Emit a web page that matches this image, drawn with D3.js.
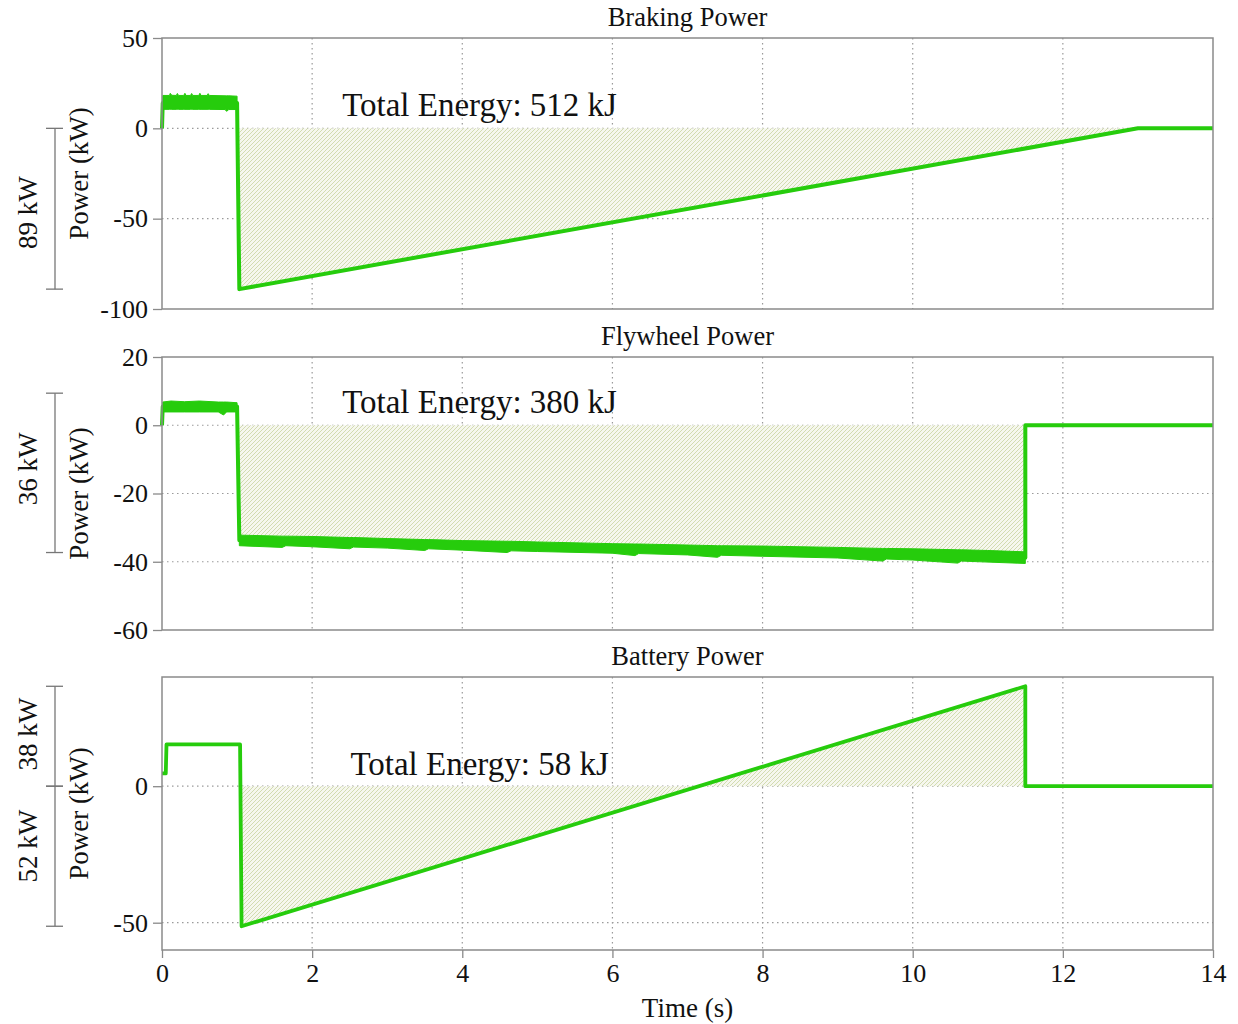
<!DOCTYPE html>
<html>
<head>
<meta charset="utf-8">
<script src="https://cdn.jsdelivr.net/npm/d3@7"></script>
<style>
  html, body { margin: 0; padding: 0; background: #fff; }
  svg text { font-family: "Liberation Serif", "Times New Roman", serif; fill: #111; }
</style>
</head>
<body>
<svg id="chart" width="1238" height="1024"></svg>
<script>
// ---- time axis ----
const timeDomain = [0, 14];
const timeTicks = [0, 2, 4, 6, 8, 10, 12, 14];

// ---- panel titles / y ranges / y ticks ----
const panelTitles = ["Braking Power", "Flywheel Power", "Battery Power"];
const yDomains = [[-100, 50], [-60, 20], [-60, 40]];
const yTicks = [[-100, -50, 0, 50], [-60, -40, -20, 0, 20], [-50, 0]];
const energyLabels = ["Total Energy: 512 kJ", "Total Energy: 380 kJ", "Total Energy: 58 kJ"];

// ---- braking power (kW): main trace [t, P] ----
const brakingLine = [[0, 0], [0.01, 14], [1.0, 14], [1.03, -89], [13.0, 0], [14, 0]];
// noisy band during acceleration [t, low, high]
const brakingBand = [
  [0.01, 10.5, 18.2], [0.10, 10.5, 18.2], [0.11, 10.5, 19.4], [0.13, 10.5, 18.3],
  [0.19, 10.5, 18.2], [0.205, 10.5, 19.3], [0.22, 10.5, 18.2], [0.29, 10.5, 18.2],
  [0.305, 10.5, 19.4], [0.32, 10.5, 18.2], [0.38, 10.5, 18.2], [0.395, 10.5, 19.3],
  [0.41, 10.5, 18.2], [0.49, 10.5, 18.2], [0.505, 10.5, 19.4], [0.52, 10.5, 18.2],
  [0.60, 10.5, 18.2], [0.615, 10.5, 19.2], [0.63, 10.5, 18.2], [0.84, 10.4, 18.0],
  [0.86, 9.4, 18.0], [0.89, 10.4, 18.0], [1.0, 10.4, 17.8]
];
const brakingFill = [[1.03, -89], [13.0, 0]];

// ---- flywheel power (kW) ----
const flywheelLine = [[0, 0], [0.01, 5.5], [1.0, 5.5], [1.03, -33.7], [11.5, -38.8], [11.5, 0], [14, 0]];
const flywheelBandA = [
  [0.01, 3.9, 6.8], [0.12, 3.9, 7.1], [0.3, 3.9, 6.9], [0.5, 3.9, 7.1],
  [0.75, 3.9, 6.8], [0.82, 3.0, 6.8], [0.86, 3.9, 6.8], [1.0, 3.9, 6.6]
];
const flywheelBandB = [
  [1.03, -35.3, -32.2], [1.6, -35.8, -32.5], [1.65, -35.3, -32.5], [2, -35.6, -32.6],
  [2.5, -36.2, -32.9], [2.55, -35.7, -32.9], [3, -36.0, -33.2], [3.5, -36.7, -33.5],
  [3.55, -36.2, -33.5], [4, -36.6, -33.8], [4.6, -37.3, -34.0], [4.65, -36.8, -34.0],
  [5, -37.0, -34.2], [6, -37.5, -34.7], [6.3, -38.2, -34.8], [6.35, -37.6, -34.8],
  [7, -38.0, -35.1], [7.4, -38.7, -35.3], [7.45, -38.1, -35.3], [8, -38.4, -35.4],
  [9, -38.9, -35.8], [9.6, -39.8, -36.1], [9.65, -39.2, -36.1], [10, -39.5, -36.2],
  [10.6, -40.4, -36.5], [10.65, -39.8, -36.5], [11, -40.1, -36.7], [11.5, -40.5, -37.1]
];
const flywheelFill = [[1.03, -32.2], [2, -32.6], [4, -33.8], [6, -34.7], [8, -35.4], [10, -36.2], [11.5, -37.1]];

// ---- battery power (kW) ----
const batteryLine = [[0, 4.7], [0.05, 4.7], [0.06, 15.3], [1.04, 15.3], [1.06, -51.3], [11.5, 36.6], [11.5, 0], [14, 0]];
const batteryFill = [[1.06, -51.3], [11.5, 36.6]];

// ---- left-hand span brackets: [top, bottom] in each panel's units ----
const spanBrackets = [
  [{ from: 0, to: -89, label: "89 kW" }],
  [{ from: 9.4, to: -37.3, label: "36 kW" }],
  [{ from: 36.6, to: 0, label: "38 kW" }, { from: 0, to: -51.3, label: "52 kW" }]
];

const svg = d3.select("#chart");
const plotLeft = 162, plotRight = 1213;
const panelBoxes = [[38, 309], [357, 630], [677, 950]];
const lineColor = "#26cc0c";
const frameColor = "#8a8a8a";
const gridColor = "#9a9a9a";
const serif = "'Liberation Serif', 'Times New Roman', serif";

const x = d3.scaleLinear().domain(timeDomain).range([plotLeft, plotRight]);

// diagonal hatch for the energy areas
const defs = svg.append("defs");
const pat = defs.append("pattern")
  .attr("id", "hatch").attr("patternUnits", "userSpaceOnUse")
  .attr("width", 4).attr("height", 4);
pat.append("rect").attr("width", 4).attr("height", 4).attr("fill", "#f6f7ee");
pat.append("path").attr("d", "M-1,1 l2,-2 M0,4 l4,-4 M3,5 l2,-2")
  .attr("stroke", "#d2dbb0").attr("stroke-width", 1);

const panels = [
  { line: brakingLine, bands: [brakingBand], fill: brakingFill, width: 4 },
  { line: flywheelLine, bands: [flywheelBandA, flywheelBandB], fill: flywheelFill, width: 4 },
  { line: batteryLine, bands: [], fill: batteryFill, width: 3.8 }
];

const energyY = [116, 413, 775];

panels.forEach((p, i) => {
  const [top, bottom] = panelBoxes[i];
  const y = d3.scaleLinear().domain(yDomains[i]).range([bottom, top]);
  const g = svg.append("g");

  // grid
  g.append("g").selectAll("line").data(timeTicks.filter(t => t > timeDomain[0] && t < timeDomain[1]))
    .join("line")
    .attr("x1", d => x(d)).attr("x2", d => x(d)).attr("y1", top).attr("y2", bottom)
    .attr("stroke", gridColor).attr("stroke-width", 1.2).attr("stroke-dasharray", "1.5,3.5");
  g.append("g").selectAll("line").data(yTicks[i].filter(v => v > yDomains[i][0] && v < yDomains[i][1]))
    .join("line")
    .attr("x1", plotLeft).attr("x2", plotRight).attr("y1", d => y(d)).attr("y2", d => y(d))
    .attr("stroke", gridColor).attr("stroke-width", 1.2).attr("stroke-dasharray", "1.5,3.5");

  // hatched energy area between the trace and zero
  g.append("path").datum(p.fill)
    .attr("d", d3.area().x(d => x(d[0])).y0(y(0)).y1(d => y(d[1])))
    .attr("fill", "url(#hatch)");

  // trace
  g.append("path").datum(p.line)
    .attr("d", d3.line().x(d => x(d[0])).y(d => y(d[1])))
    .attr("fill", "none").attr("stroke", lineColor).attr("stroke-width", p.width)
    .attr("stroke-linejoin", "round");

  // noisy bands
  p.bands.forEach(b => {
    g.append("path").datum(b)
      .attr("d", d3.area().x(d => x(d[0])).y0(d => y(d[1])).y1(d => y(d[2])))
      .attr("fill", lineColor).attr("stroke", lineColor).attr("stroke-width", 1);
  });

  // frame
  g.append("rect").attr("x", plotLeft).attr("y", top)
    .attr("width", plotRight - plotLeft).attr("height", bottom - top)
    .attr("fill", "none").attr("stroke", frameColor).attr("stroke-width", 1.5);

  // y axis
  const ya = d3.axisLeft(y).tickValues(yTicks[i]).tickSize(9).tickPadding(5).tickFormat(d3.format("d"));
  const yg = g.append("g").attr("transform", `translate(${plotLeft},0)`).call(ya);
  yg.select(".domain").remove();
  yg.selectAll(".tick line").attr("stroke", frameColor).attr("stroke-width", 1.3);
  yg.selectAll(".tick text").attr("font-size", 26).attr("fill", "#111")
    .attr("font-family", serif)
    .text(d => d < 0 ? "-" + Math.abs(d) : d);

  // title
  g.append("text").attr("x", x(7)).attr("y", top - 12).attr("text-anchor", "middle")
    .attr("font-size", 26.5).text(panelTitles[i]);

  // energy annotation
  g.append("text").attr("x", x(i === 2 ? 2.51 : 2.4)).attr("y", energyY[i])
    .attr("font-size", 33).text(energyLabels[i]);

  // y axis label
  const mid = (top + bottom) / 2;
  g.append("text").attr("transform", `translate(88,${mid}) rotate(-90)`)
    .attr("text-anchor", "middle").attr("font-size", 27).text("Power (kW)");

  // span brackets
  spanBrackets[i].forEach((s, k) => {
    const y1 = y(s.from), y2 = y(s.to);
    g.append("line").attr("x1", 55).attr("x2", 55).attr("y1", y1).attr("y2", y2)
      .attr("stroke", "#777").attr("stroke-width", 1.3);
    [y1, y2].forEach(yy => g.append("line").attr("x1", 46).attr("x2", 63).attr("y1", yy).attr("y2", yy)
      .attr("stroke", "#777").attr("stroke-width", 1.3));
    const labelMid = (i === 2 && k === 1) ? (y1 + y2) / 2 - 10 : (y1 + y2) / 2 + (i === 0 ? 4 : i === 1 ? -4 : -2);
    g.append("text").attr("transform", `translate(37,${labelMid}) rotate(-90)`)
      .attr("text-anchor", "middle").attr("font-size", 27).text(s.label);
  });

  // time axis on the bottom panel
  if (i === 2) {
    const xa = d3.axisBottom(x).tickValues(timeTicks).tickSize(8).tickPadding(6).tickFormat(d3.format("d"));
    const xg = g.append("g").attr("transform", `translate(0,${bottom})`).call(xa);
    xg.select(".domain").remove();
    xg.selectAll(".tick line").attr("stroke", frameColor).attr("stroke-width", 1.3);
    xg.selectAll(".tick text").attr("font-size", 26).attr("fill", "#111")
      .attr("font-family", serif);
    g.append("text").attr("x", x(7)).attr("y", 1017).attr("text-anchor", "middle")
      .attr("font-size", 27).text("Time (s)");
  }
});
</script>
</body>
</html>
